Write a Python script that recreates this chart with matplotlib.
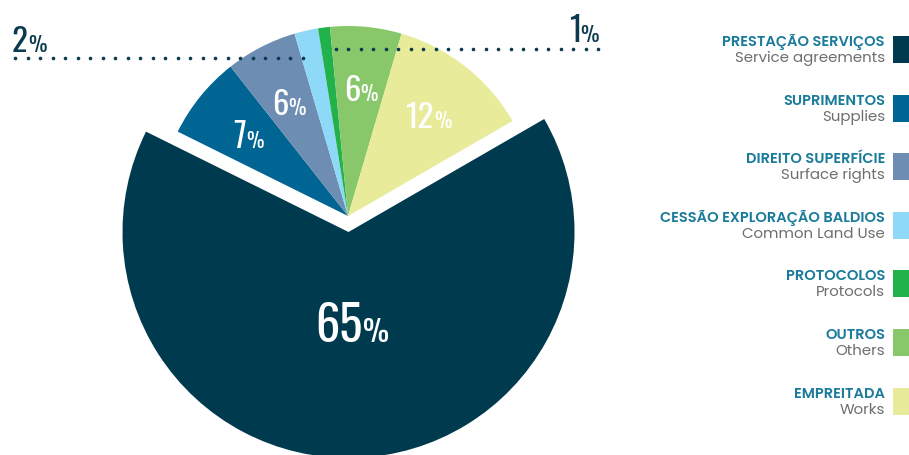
import matplotlib
matplotlib.use('Agg')
import matplotlib.pyplot as plt
import numpy as np
from matplotlib.patches import Rectangle
from matplotlib.textpath import TextPath
from matplotlib.font_manager import FontProperties

# contract types, clockwise from the big slice
types_pt=['PRESTAÇÃO SERVIÇOS','SUPRIMENTOS','DIREITO SUPERFÍCIE',
          'CESSÃO EXPLORAÇÃO BALDIOS','PROTOCOLOS','OUTROS','EMPREITADA']
types_en=['Service agreements','Supplies','Surface rights',
          'Common Land Use','Protocols','Others','Works']
shares=[65,7,6,2,1,6,12]
colors=['#003a4f','#006593','#6e8db3','#8ed8f8','#22b24c','#88c86a','#e8eb9a']

navy='#0b3a4e'
teal='#1a7b9b'
grey='#6d6e71'
num_font=['Oswald','IBM Plex Sans Condensed','DejaVu Sans']
leg_font=['Poppins','Open Sans','DejaVu Sans']

W,H=909,455
fig=plt.figure(figsize=(W/100,H/100),dpi=100)
ax=fig.add_axes([0,0,1,1])

cx,cy=348,H-216
r=190
wedges,_=ax.pie(shares,colors=colors,startangle=30,counterclock=False,
                explode=[16]+[0]*(len(shares)-1),center=(cx,cy),radius=r,
                wedgeprops=dict(linewidth=0))
# main slice sits lower and is drawn a bit bigger
wedges[0].set_radius(226)

ax.set_xlim(0,W)
ax.set_ylim(0,H)
ax.axis('off')

num_prop=FontProperties(family=num_font)

def ink(s):
    # ink height and advance of s at size 100 (px)
    ext=TextPath((0,0),s,size=100,prop=num_prop).get_extents()
    return ext.height,ext.x1

def pct_label(x,y,value,big_h,small_h,color,align='center'):
    # number + smaller % sign; big_h/small_h are glyph heights in px
    hn,wn=ink(str(value))
    hp,wp=ink('%')
    sn=big_h/hn*100
    sp=small_h/hp*100
    wn,wp=wn*sn/100,wp*sp/100
    gap=1.5
    total=wn+gap+wp
    if align=='center':
        left=x-total/2
        base=y-big_h/2
    elif align=='left':
        left=x
        base=y
    else:
        left=x-total
        base=y
    ax.text(left,base,str(value),fontsize=sn*0.72,color=color,family=num_font,
            ha='left',va='baseline')
    ax.text(left+wn+gap,base,'%',fontsize=sp*0.72,color=color,family=num_font,
            ha='left',va='baseline')

def dots(x0,x1,y):
    step=12.5 if x1>x0 else -12.5
    xs=np.arange(x0,x1,step)
    ax.plot(xs,[y]*len(xs),'o',color=navy,markersize=2.6,markeredgewidth=0,
            clip_on=False,zorder=5)

# thin slices get an outside label: (label x, align, line start x, line y)
outside={3:(12,'left',15,H-58),4:(598,'right',598,H-49)}

for i,w in enumerate(wedges):
    mid=np.deg2rad((w.theta1+w.theta2)/2)
    x0,y0=w.center
    if i==0:
        pct_label(x0+0.4*w.r*np.cos(mid),y0+0.4*w.r*np.sin(mid),shares[i],40,24,'white')
    elif i in outside:
        lx,al,sx,ly=outside[i]
        ex=x0+(ly-y0)/np.tan(mid)
        dots(sx,ex,ly)
        pct_label(lx,ly+6.5,shares[i],27,17,navy,align=al)
    else:
        pct_label(x0+0.68*w.r*np.cos(mid),y0+0.68*w.r*np.sin(mid),shares[i],27,16,'white')

# legend on the right
for i in range(len(types_pt)):
    yb=H-(46+i*58.6)
    ax.text(885,yb,types_pt[i],fontsize=10.5,fontweight='semibold',color=teal,
            family=leg_font,ha='right',va='baseline')
    ax.text(885,yb-16,types_en[i],fontsize=10.8,color=grey,
            family=leg_font,ha='right',va='baseline')
    ax.add_patch(Rectangle((893,yb-17),16,27,facecolor=colors[i],
                           linewidth=0,clip_on=False))

fig.savefig('out.png',dpi=100)
